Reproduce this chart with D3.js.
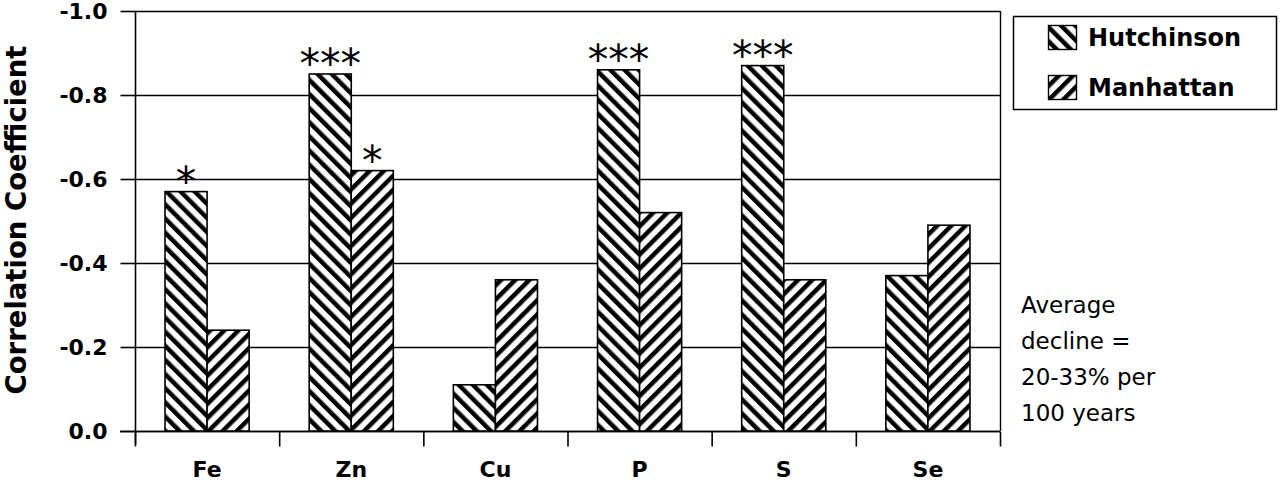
<!DOCTYPE html>
<html><head><meta charset="utf-8">
<script src="https://cdn.jsdelivr.net/npm/d3@7"></script>
<style>body{margin:0;background:#fff}svg{display:block}</style>
</head><body>
<script>
const categories = ["Fe","Zn","Cu","P","S","Se"];
const seriesNames = ["Hutchinson","Manhattan"];
const hutchinson = [-0.57,-0.85,-0.11,-0.86,-0.87,-0.37];
const manhattan = [-0.24,-0.62,-0.36,-0.52,-0.36,-0.49];
const hutchStars = ["*","***","","***","***",""];
const manhStars = ["","*","","","",""];
const yTicks = [0,-0.2,-0.4,-0.6,-0.8,-1.0];
const yTickLabels = ["0.0","-0.2","-0.4","-0.6","-0.8","-1.0"];
const annotation = ["Average","decline =","20-33% per","100 years"];

const W=1280,H=483;
const svg=d3.select("body").append("svg").attr("width",W).attr("height",H);
const pL=135,pR=1000,pT=11,pB=431;
const y=d3.scaleLinear().domain([0,-1]).range([pB,pT]);
const x=d3.scaleBand().domain(categories).range([pL,pR]);
const xs=d3.scaleBand().domain(seriesNames).range([0,x.bandwidth()]).paddingInner(0).paddingOuter(0.714);
const FONT="DejaVu Sans, Verdana, sans-serif";

const defs=svg.append("defs");
function pat(id,angle){
  const p=defs.append("pattern").attr("id",id).attr("patternUnits","userSpaceOnUse")
    .attr("width",10).attr("height",10).attr("patternTransform",`rotate(${angle})`);
  p.append("rect").attr("width",10).attr("height",10).attr("fill","#fff");
  p.append("rect").attr("width",4.5).attr("height",10).attr("fill","#000");
}
pat("hatchH",-45);
pat("hatchM",45);
const fills={Hutchinson:"url(#hatchH)",Manhattan:"url(#hatchM)"};

// gridlines
svg.append("g").selectAll("line").data(yTicks).join("line")
  .attr("x1",pL).attr("x2",pR).attr("y1",d=>Math.round(y(d))+0.5).attr("y2",d=>Math.round(y(d))+0.5)
  .attr("stroke","#000").attr("stroke-width",1.4);
// right border
svg.append("line").attr("x1",pR+0.5).attr("x2",pR+0.5).attr("y1",pT).attr("y2",pB).attr("stroke","#000").attr("stroke-width",1.4);

// y axis
const ya=svg.append("g").attr("transform",`translate(${pL+0.5},0)`)
  .call(d3.axisLeft(y).tickValues(yTicks).tickSize(15).tickPadding(13).tickFormat((d,i)=>yTickLabels[i]));
ya.select(".domain").attr("stroke-width",1.6).attr("d",`M0,${pT}V${pB+13}`);
ya.selectAll(".tick line").attr("stroke-width",1.6);
ya.selectAll("text").attr("font-family",FONT).attr("font-weight","bold").attr("font-size",22).attr("fill","#000");

// x axis
const xa=svg.append("g").attr("transform",`translate(0,${pB+0.5})`)
  .call(d3.axisBottom(x).tickSize(0).tickPadding(30));
xa.select(".domain").attr("stroke-width",1.6).attr("d",`M${pL-15},0H${pR}`);
xa.selectAll("text").attr("font-family",FONT).attr("font-weight","bold").attr("font-size",22).attr("fill","#000");
xa.selectAll(".sep").data(categories.concat(["_end"])).join("line")
  .attr("x1",(d,i)=>pL+i*x.bandwidth()+0.5).attr("x2",(d,i)=>pL+i*x.bandwidth()+0.5)
  .attr("y1",0).attr("y2",15).attr("stroke","#000").attr("stroke-width",1.6);

// bars
const data=[];
categories.forEach((c,i)=>{
  data.push({c,s:"Hutchinson",v:hutchinson[i],star:hutchStars[i]});
  data.push({c,s:"Manhattan",v:manhattan[i],star:manhStars[i]});
});
svg.append("g").selectAll("rect").data(data).join("rect")
  .attr("x",d=>x(d.c)+xs(d.s)).attr("width",xs.bandwidth())
  .attr("y",d=>y(d.v)).attr("height",d=>y(0)-y(d.v))
  .attr("fill",d=>fills[d.s]).attr("stroke","#000").attr("stroke-width",1.6);

svg.append("g").selectAll("text").data(data.filter(d=>d.star)).join("text")
  .attr("x",d=>x(d.c)+xs(d.s)+xs.bandwidth()/2).attr("y",d=>y(d.v)+4)
  .attr("text-anchor","middle").attr("font-family",FONT).attr("font-size",41).attr("fill","#000")
  .text(d=>d.star);

// y title
svg.append("text").attr("transform","translate(26,220) rotate(-90)").attr("text-anchor","middle")
  .attr("font-family",FONT).attr("font-weight","bold").attr("font-size",27.5).attr("fill","#000")
  .text("Correlation Coefficient");

// legend
const lg=svg.append("g");
lg.append("rect").attr("x",1013.5).attr("y",16.5).attr("width",263).attr("height",93).attr("fill","#fff").attr("stroke","#000").attr("stroke-width",1.5);
seriesNames.forEach((s,i)=>{
  const yy=25+i*50;
  lg.append("rect").attr("x",1048.5).attr("y",yy+0.5).attr("width",28).attr("height",24).attr("fill",fills[s]).attr("stroke","#000").attr("stroke-width",1.4);
  lg.append("text").attr("x",1088).attr("y",yy+21).attr("font-family",FONT).attr("font-weight","bold").attr("font-size",24).attr("fill","#000").text(s);
});

// annotation
svg.append("g").selectAll("text").data(annotation).join("text")
  .attr("x",1021).attr("y",(d,i)=>313+i*36)
  .attr("font-family",FONT).attr("font-size",23).attr("fill","#000").text(d=>d);
</script>
</body></html>
